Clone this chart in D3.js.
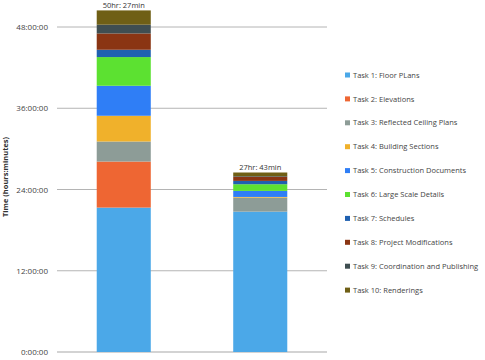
<!DOCTYPE html>
<html>
<head>
<meta charset="utf-8">
<script src="https://cdn.jsdelivr.net/npm/d3@7"></script>
<style>
  html, body { margin: 0; padding: 0; background: #fff; }
  svg { display: block; font-family: "Open Sans", sans-serif; }
</style>
</head>
<body>
<svg id="chart" width="485" height="360"></svg>
<script>
const categories = ["Project A", "Project B"];
const tasks = [
  "Task 1: Floor PLans",
  "Task 2: Elevations",
  "Task 3: Reflected Ceiling Plans",
  "Task 4: Building Sections",
  "Task 5: Construction Documents",
  "Task 6: Large Scale Details",
  "Task 7: Schedules",
  "Task 8: Project Modifications",
  "Task 9: Coordination and Publishing",
  "Task 10: Renderings"
];
// hours per task, for each bar
const barA = [21.33, 6.80, 2.96, 3.80, 4.43, 4.24, 1.08, 2.41, 1.29, 2.11];
const barB = [20.73, 0.00, 2.07, 0.10, 0.89, 0.99, 0.49, 0.59, 0.10, 0.55];
const totalLabels = ["50hr: 27min", "27hr: 43min"];
const tickValues = [0, 12, 24, 36, 48];
const tickLabels = ["0:00:00", "12:00:00", "24:00:00", "36:00:00", "48:00:00"];
const colors = ["#4ba8e8", "#ee6633", "#8d9c97", "#f0b12b", "#2f7ef6", "#5ce131",
                "#1f60b0", "#8a3513", "#3f4e51", "#6f5f15"];

const svg = d3.select("#chart");
const y = d3.scaleLinear().domain([0, 48]).range([352, 27]);
const x = d3.scaleBand().domain(categories).range([57, 327])
  .paddingInner(0.604).paddingOuter(0.291);
const color = d3.scaleOrdinal().domain(tasks).range(colors);

// grid lines
svg.append("g").selectAll("line").data(tickValues).join("line")
  .attr("x1", 57).attr("x2", 327)
  .attr("y1", d => y(d)).attr("y2", d => y(d))
  .attr("stroke", d => d === 0 ? "#c4c4c4" : "#b4b4b4")
  .attr("stroke-width", d => d === 0 ? 1.5 : 1);

// y axis labels
const yAxis = d3.axisLeft(y).tickValues(tickValues)
  .tickFormat((d, i) => tickLabels[i]).tickSize(0).tickPadding(0);
const gy = svg.append("g").attr("transform", "translate(48,0)").call(yAxis);
gy.select(".domain").remove();
gy.selectAll("text").attr("font-size", 8).attr("fill", "#444")
  .attr("font-family", "Open Sans, sans-serif");

// axis title
svg.append("text")
  .attr("transform", "translate(8,177) rotate(-90)")
  .attr("text-anchor", "middle")
  .attr("font-size", 7.5).attr("font-weight", "bold").attr("fill", "#333")
  .text("Time (hours:minutes)");

// stacked bars
const rows = categories.map((c, i) => {
  const vals = i === 0 ? barA : barB;
  const o = { cat: c };
  tasks.forEach((t, j) => o[t] = vals[j]);
  return o;
});
const stack = d3.stack().keys(tasks)(rows);
svg.append("g").selectAll("g").data(stack).join("g")
  .attr("fill", d => color(d.key))
  .selectAll("rect").data(d => d).join("rect")
  .attr("x", d => x(d.data.cat))
  .attr("width", x.bandwidth())
  .attr("y", d => y(d[1]))
  .attr("height", d => Math.max(0, y(d[0]) - y(d[1])));

// total labels
const totals = rows.map(r => d3.sum(tasks, t => r[t]));
svg.append("g").selectAll("text").data(categories).join("text")
  .attr("x", d => x(d) + x.bandwidth() / 2)
  .attr("y", (d, i) => y(totals[i]) - 2.5)
  .attr("text-anchor", "middle")
  .attr("font-size", 7.5).attr("fill", "#333")
  .text((d, i) => totalLabels[i]);

// legend
const lg = svg.append("g").selectAll("g").data(tasks).join("g")
  .attr("transform", (d, i) => `translate(345,${75 + i * 23.9})`);
lg.append("rect").attr("x", 0).attr("y", -2.5).attr("width", 5).attr("height", 5)
  .attr("fill", d => color(d));
lg.append("text").attr("x", 8).attr("y", 0).attr("dy", "0.35em")
  .attr("font-size", 7.5).attr("fill", "#444")
  .text(d => d);
</script>
</body>
</html>
